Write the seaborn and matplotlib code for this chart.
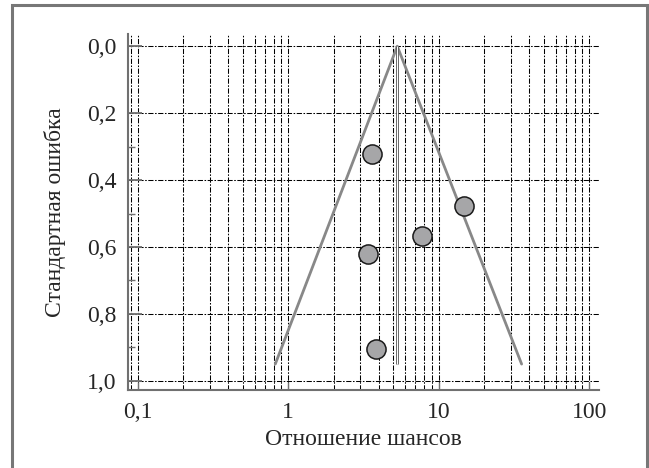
import numpy as np
import pandas as pd
import matplotlib
matplotlib.use("Agg")
import matplotlib.pyplot as plt
import matplotlib.ticker as mticker
from matplotlib.patches import Rectangle
import seaborn as sns

# ----------------------------------------------------------
# DATA
# ----------------------------------------------------------
study_or = [3.61, 14.7, 7.77, 3.40, 3.84]      # odds ratio of each study
study_se = [0.322, 0.478, 0.567, 0.621, 0.904]  # standard error of each study

funnel_x = [0.82, 5.3, 35.5]     # funnel outline: left foot, apex, right foot
funnel_y = [0.95, 0.0, 0.95]

pooled_x = [5.3, 5.3]            # pooled estimate line
pooled_y = [0.0, 0.95]

x_ticks = [0.1, 1, 10, 100]
x_tick_labels = ["0,1", "1", "10", "100"]
y_ticks = [0.0, 0.2, 0.4, 0.6, 0.8, 1.0]
y_tick_labels = ["0,0", "0,2", "0,4", "0,6", "0,8", "1,0"]
y_minor = [0.3, 0.5, 0.7, 0.9]

X_LABEL = "Отношение шансов"
Y_LABEL = "Стандартная ошибка"

# ----------------------------------------------------------
# STYLE
# ----------------------------------------------------------
sns.set_theme(style="ticks")
plt.rcParams["font.family"] = ["Liberation Serif", "DejaVu Serif"]
SPINE = "#707070"
GREY_LINE = "#888888"
FS = 17

df = pd.DataFrame({"or": study_or, "se": study_se})

fig = plt.figure(figsize=(6.49, 4.68), dpi=100)
ax = fig.add_axes([0.197, 0.167, 0.726, 0.760])

# grid
ax.set_xscale("log")
ax.set_xlim(0.086, 116)
ax.set_ylim(1.027, -0.036)
ax.xaxis.set_major_locator(mticker.FixedLocator(x_ticks))
ax.xaxis.set_major_formatter(mticker.FixedFormatter(x_tick_labels))
ax.xaxis.set_minor_locator(mticker.LogLocator(base=10, subs=np.arange(2, 10)))
ax.xaxis.set_minor_formatter(mticker.NullFormatter())
ax.yaxis.set_major_locator(mticker.FixedLocator(y_ticks))
ax.yaxis.set_major_formatter(mticker.FixedFormatter(y_tick_labels))
ax.yaxis.set_minor_locator(mticker.FixedLocator(y_minor))

grid_style = dict(color="black", linewidth=0.75, linestyle=(0, (5, 1.5, 1.5, 1.5)))
ax.xaxis.grid(True, which="both", **grid_style)
ax.yaxis.grid(True, which="major", **grid_style)
ax.set_axisbelow(True)

# funnel + pooled line
sns.lineplot(x=funnel_x, y=funnel_y, sort=False, color=GREY_LINE, linewidth=2.0,
             ax=ax, zorder=3)
ax.plot(pooled_x, pooled_y, color="#444444", linewidth=2.0, zorder=3,
        solid_capstyle="butt")
ax.plot(pooled_x, pooled_y, color="white", linewidth=0.9, zorder=3,
        solid_capstyle="butt")

# studies
sns.scatterplot(data=df, x="or", y="se", s=190, color="#a6a6a8",
                edgecolor="#1a1a1a", linewidth=1.1, ax=ax, zorder=4, legend=False)

# axes cosmetics
for side in ["top", "right"]:
    ax.spines[side].set_visible(False)
for side in ["left", "bottom"]:
    ax.spines[side].set_color(SPINE)
    ax.spines[side].set_linewidth(1.5)

ax.tick_params(axis="y", which="major", direction="in", length=10, width=1.3,
               color=SPINE, labelsize=FS, pad=8)
ax.tick_params(axis="y", which="minor", direction="in", length=5, width=1.0,
               color=SPINE)
ax.tick_params(axis="x", which="major", direction="in", length=6, width=1.0,
               color=SPINE, labelsize=FS, pad=9)
ax.tick_params(axis="x", which="minor", length=0)

ax.set_xlabel(X_LABEL, fontsize=FS, labelpad=4)
ax.set_ylabel(Y_LABEL, fontsize=FS, labelpad=15)

# outer frame around the whole figure
fig.patches.append(Rectangle((12 / 649, -0.02), 635 / 649, 1.02 - 5 / 468,
                             transform=fig.transFigure, fill=False,
                             edgecolor="#777777", linewidth=2.2))

fig.savefig("out.png", dpi=100)
plt.close(fig)
